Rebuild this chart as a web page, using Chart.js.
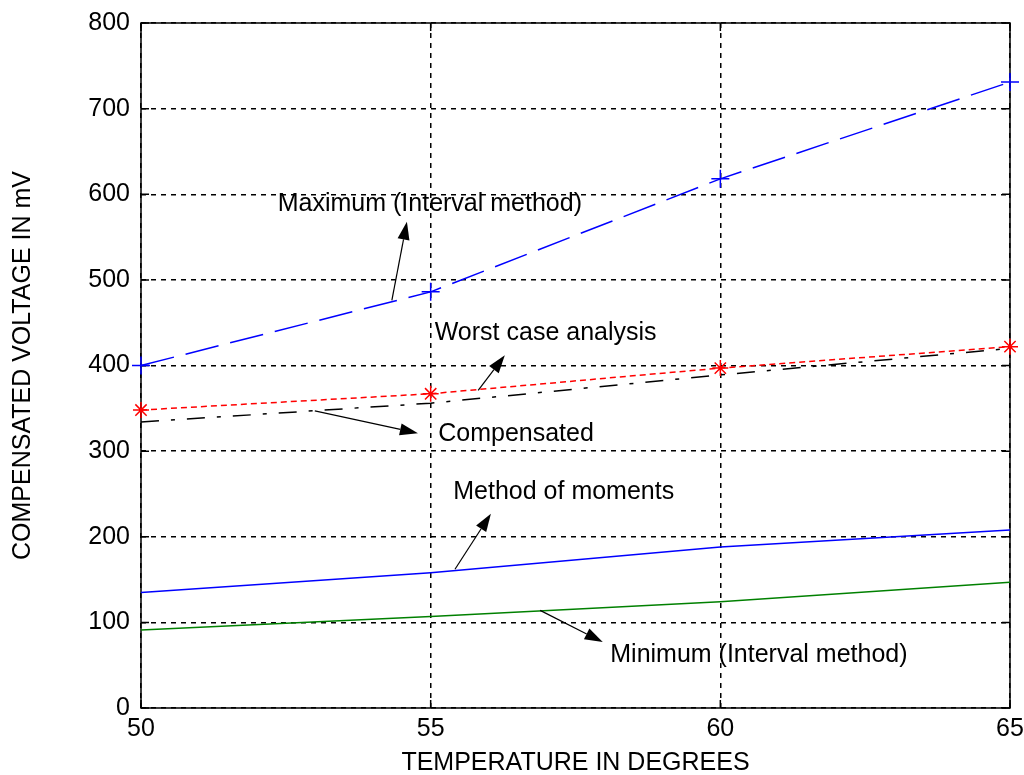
<!DOCTYPE html>
<html>
<head>
<meta charset="utf-8">
<script src="https://cdn.jsdelivr.net/npm/chart.js@4.4.1/dist/chart.umd.min.js"></script>
<style>
  html, body { margin: 0; padding: 0; background: #fff; }
  canvas { display: block; }
</style>
</head>
<body>
<canvas id="chart" width="1024" height="775"></canvas>
<script>
  // valores (mV vs temperatura)
  const temps = [50, 55, 60, 65];
  const maxInterval = [400, 486, 618, 731];
  const worstCase = [348, 367, 397, 422];
  const compensated = [334, 356, 389, 420];
  const moments = [135, 158, 188, 208];
  const minInterval = [91, 107, 124, 147];

  const xTicks = [50, 55, 60, 65];
  const yTicks = [0, 100, 200, 300, 400, 500, 600, 700, 800];

  // anotaciones en unidades de datos
  const notes = [
    { text: "Maximum (Interval method)", x: 52.36, y: 588 },
    { text: "Worst case analysis", x: 55.07, y: 438 },
    { text: "Compensated", x: 55.13, y: 320 },
    { text: "Method of moments", x: 55.39, y: 252 },
    { text: "Minimum (Interval method)", x: 58.10, y: 62 },
  ];
  const arrows = [
    { from: [54.33, 476], to: [54.59, 568] },
    { from: [55.82, 371], to: [56.28, 412] },
    { from: [53.00, 347], to: [54.78, 321] },
    { from: [55.42, 162], to: [56.04, 227] },
    { from: [56.89, 114], to: [57.97, 77] },
  ];

  const FONT = "'Liberation Sans', Arial, sans-serif";
  const FSIZE = 25;
  const pts = (arr) => temps.map((t, i) => ({ x: t, y: arr[i] }));

  const frame = {
    id: "frame",
    // caja y ticks hacia adentro, debajo de las series
    beforeDatasetsDraw(chart) {
      const { ctx, chartArea: a, scales } = chart;
      ctx.save();
      ctx.strokeStyle = "#000";
      ctx.lineWidth = 1.5;
      ctx.strokeRect(a.left, a.top, a.right - a.left, a.bottom - a.top);
      const L = 8;
      ctx.beginPath();
      yTicks.forEach((v) => {
        const py = scales.y.getPixelForValue(v);
        ctx.moveTo(a.left, py); ctx.lineTo(a.left + L, py);
        ctx.moveTo(a.right, py); ctx.lineTo(a.right - L, py);
      });
      xTicks.forEach((v) => {
        const px = scales.x.getPixelForValue(v);
        ctx.moveTo(px, a.bottom); ctx.lineTo(px, a.bottom - L);
        ctx.moveTo(px, a.top); ctx.lineTo(px, a.top + L);
      });
      ctx.stroke();
      ctx.restore();
    },
    afterDatasetsDraw(chart) {
      const { ctx, scales } = chart;
      ctx.save();
      // textos
      ctx.fillStyle = "#000";
      ctx.strokeStyle = "#000";
      ctx.font = FSIZE + "px " + FONT;
      ctx.textAlign = "left";
      ctx.textBaseline = "middle";
      notes.forEach((n) => {
        ctx.fillText(n.text, scales.x.getPixelForValue(n.x), scales.y.getPixelForValue(n.y));
      });

      // flechas
      ctx.lineWidth = 1.2;
      arrows.forEach((ar) => {
        const x0 = scales.x.getPixelForValue(ar.from[0]);
        const y0 = scales.y.getPixelForValue(ar.from[1]);
        const x1 = scales.x.getPixelForValue(ar.to[0]);
        const y1 = scales.y.getPixelForValue(ar.to[1]);
        const ang = Math.atan2(y1 - y0, x1 - x0);
        const hl = 18, hw = 6;
        const bx = x1 - hl * Math.cos(ang), by = y1 - hl * Math.sin(ang);
        ctx.beginPath();
        ctx.moveTo(x0, y0); ctx.lineTo(bx, by);
        ctx.stroke();
        ctx.beginPath();
        ctx.moveTo(x1, y1);
        ctx.lineTo(bx + hw * Math.sin(ang), by - hw * Math.cos(ang));
        ctx.lineTo(bx - hw * Math.sin(ang), by + hw * Math.cos(ang));
        ctx.closePath();
        ctx.fill();
      });
      ctx.restore();
    }
  };

  new Chart(document.getElementById("chart"), {
    type: "line",
    data: {
      datasets: [
        { label: "Maximum (Interval method)", data: pts(maxInterval), borderColor: "#0000ff",
          borderWidth: 1.5, borderDash: [34, 12], pointStyle: "cross", pointRadius: 9,
          pointBorderColor: "#0000ff", pointBorderWidth: 1.5, clip: false },
        { label: "Worst case analysis", data: pts(worstCase), borderColor: "#ff0000",
          borderWidth: 1.5, borderDash: [6, 4], pointStyle: "star", pointRadius: 8,
          pointBorderColor: "#ff0000", pointBorderWidth: 1.5, clip: false },
        { label: "Compensated", data: pts(compensated), borderColor: "#000000",
          borderWidth: 1.5, borderDash: [18, 12, 4, 12], pointRadius: 0 },
        { label: "Method of moments", data: pts(moments), borderColor: "#0000ff",
          borderWidth: 1.5, pointRadius: 0 },
        { label: "Minimum (Interval method)", data: pts(minInterval), borderColor: "#008000",
          borderWidth: 1.5, pointRadius: 0 },
      ]
    },
    options: {
      responsive: false,
      animation: false,
      events: [],
      layout: { padding: { top: 23, right: 14, left: 0, bottom: 0 } },
      plugins: { legend: { display: false }, tooltip: { enabled: false } },
      elements: { line: { tension: 0, fill: false } },
      scales: {
        x: {
          type: "linear", min: 50, max: 65,
          afterBuildTicks: (s) => { s.ticks = xTicks.map((v) => ({ value: v })); },
          afterFit: (s) => { s.height = 67; s.paddingLeft = 0; s.paddingRight = 0; },
          grid: { color: "#000", lineWidth: 1.5, drawTicks: false },
          border: { display: false, dash: [5, 5] },
          ticks: { color: "#000", padding: 6, font: { family: FONT, size: FSIZE } },
          title: { display: true, text: "TEMPERATURE IN DEGREES", color: "#000",
                   padding: { top: 0, bottom: -3 }, font: { family: FONT, size: FSIZE } }
        },
        y: {
          type: "linear", min: 0, max: 800,
          afterBuildTicks: (s) => { s.ticks = yTicks.map((v) => ({ value: v })); },
          afterFit: (s) => { s.width = 141; s.paddingTop = 0; s.paddingBottom = 0; },
          grid: { color: "#000", lineWidth: 1.5, drawTicks: false },
          border: { display: false, dash: [5, 5] },
          ticks: { color: "#000", padding: 11, font: { family: FONT, size: FSIZE } },
          title: { display: true, text: "COMPENSATED VOLTAGE IN mV", color: "#000",
                   padding: { top: 8, bottom: 0 }, font: { family: FONT, size: FSIZE } }
        }
      }
    },
    plugins: [frame]
  });
</script>
</body>
</html>
